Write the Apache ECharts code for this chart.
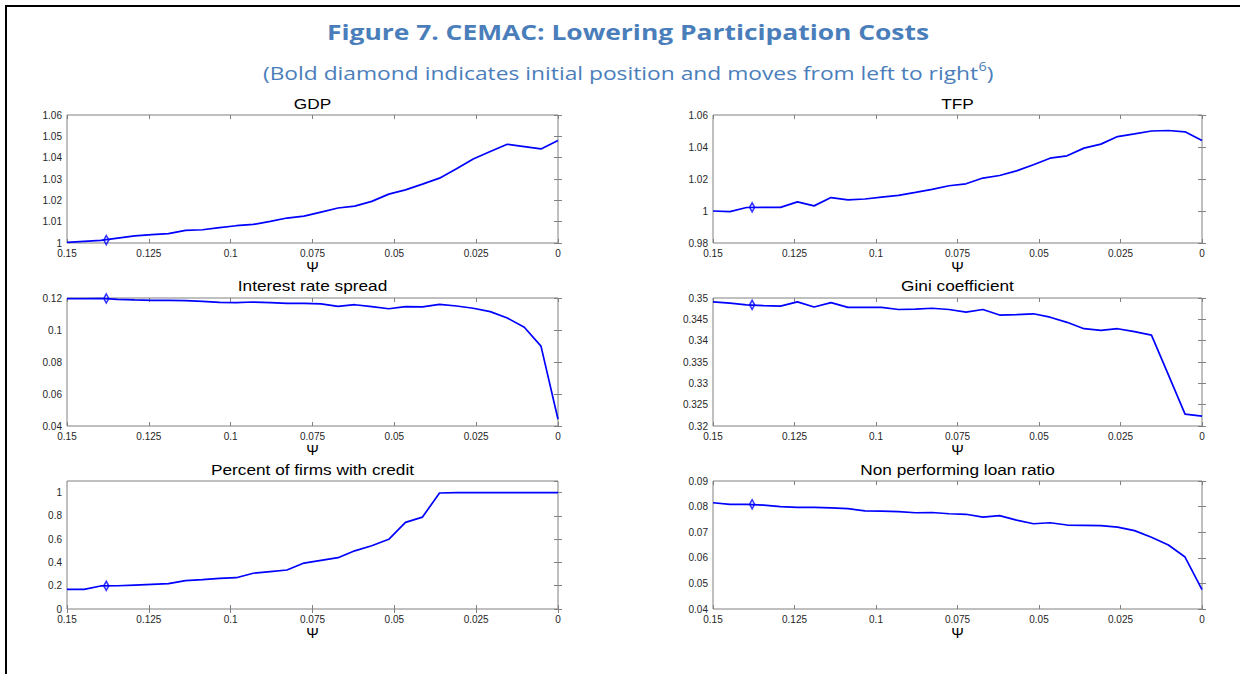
<!DOCTYPE html>
<html><head><meta charset="utf-8">
<script src="https://cdn.jsdelivr.net/npm/echarts@6/dist/echarts.min.js"></script>
<style>html,body{margin:0;padding:0;background:#fff}#c{width:1240px;height:674px}</style>
</head><body><div id="c"></div>
<script>
// x values (psi)
const psi = [0.15, 0.1448, 0.1397, 0.1345, 0.1293, 0.1241, 0.1190, 0.1138, 0.1086, 0.1034,
             0.0983, 0.0931, 0.0879, 0.0828, 0.0776, 0.0724, 0.0672, 0.0621, 0.0569, 0.0517,
             0.0466, 0.0414, 0.0362, 0.0310, 0.0259, 0.0207, 0.0155, 0.0103, 0.0052, 0];
const gdp = [1.0003, 1.0008, 1.0012, 1.0023, 1.0033, 1.0039, 1.0044, 1.0059, 1.0062, 1.0072,
             1.0081, 1.0087, 1.0101, 1.0117, 1.0126, 1.0145, 1.0164, 1.0173, 1.0195, 1.0229,
             1.0249, 1.0276, 1.0304, 1.0348, 1.0394, 1.0429, 1.0463, 1.0452, 1.0441, 1.0480];
const tfp = [1.0000, 0.9996, 1.0022, 1.0023, 1.0023, 1.0057, 1.0032, 1.0084, 1.0069, 1.0075,
             1.0087, 1.0098, 1.0116, 1.0135, 1.0158, 1.0170, 1.0206, 1.0222, 1.0251, 1.0289,
             1.0330, 1.0345, 1.0393, 1.0418, 1.0465, 1.0482, 1.0500, 1.0503, 1.0495, 1.0440];
const spread = [0.1196, 0.1196, 0.1198, 0.1192, 0.1188, 0.1185, 0.1185, 0.1183, 0.1179, 0.1173,
                0.1171, 0.1175, 0.1171, 0.1167, 0.1167, 0.1163, 0.1148, 0.1158, 0.1146, 0.1133,
                0.1146, 0.1144, 0.1160, 0.1150, 0.1136, 0.1115, 0.1075, 0.1017, 0.0899, 0.0442];
const gini = [0.3491, 0.3488, 0.3484, 0.3482, 0.3481, 0.3491, 0.3479, 0.3489, 0.3478, 0.3478,
              0.3478, 0.3473, 0.3474, 0.3476, 0.3473, 0.3467, 0.3473, 0.3460, 0.3461, 0.3463,
              0.3455, 0.3443, 0.3428, 0.3424, 0.3428, 0.3421, 0.3413, 0.3320, 0.3228, 0.3223];
const credit = [0.169, 0.169, 0.198, 0.200, 0.206, 0.212, 0.218, 0.244, 0.252, 0.264,
                0.269, 0.307, 0.321, 0.335, 0.395, 0.418, 0.441, 0.500, 0.544, 0.599,
                0.744, 0.790, 0.997, 1.000, 1.000, 1.000, 1.000, 1.000, 1.000, 1.000];
const npl = [0.0815, 0.0809, 0.0809, 0.0806, 0.0800, 0.0797, 0.0797, 0.0795, 0.0792, 0.0783,
             0.0782, 0.0780, 0.0776, 0.0777, 0.0772, 0.0770, 0.0759, 0.0765, 0.0747, 0.0733,
             0.0737, 0.0728, 0.0727, 0.0726, 0.0720, 0.0706, 0.0680, 0.0650, 0.0603, 0.0476];
// initial position (bold diamond)
const psi0 = 0.138;
const initial = {gdp: 1.0014, tfp: 1.0023, spread: 0.1197, gini: 0.3484, credit: 0.199, npl: 0.0809};

const panelTitles = ['GDP', 'TFP', 'Interest rate spread', 'Gini coefficient', 'Percent of firms with credit', 'Non performing loan ratio'];
const panelSeries = [gdp, tfp, spread, gini, credit, npl];
const panelInitial = [initial.gdp, initial.tfp, initial.spread, initial.gini, initial.credit, initial.npl];
const yRanges = [[1, 1.06, 0.01], [0.98, 1.06, 0.02], [0.04, 0.12, 0.02], [0.32, 0.35, 0.005], [0, 1.1, 0.2], [0.04, 0.09, 0.01]];
const xRange = [0, 0.15, 0.025];
const xName = 'Ψ';

// layout (pixels)
const layout = [
  {left: 67, top: 115, width: 491, height: 128, titleY: 103},
  {left: 713, top: 115, width: 489, height: 128, titleY: 103},
  {left: 67, top: 298, width: 491, height: 128, titleY: 285},
  {left: 713, top: 298, width: 489, height: 128, titleY: 285},
  {left: 67, top: 481, width: 491, height: 128, titleY: 469},
  {left: 713, top: 481, width: 489, height: 128, titleY: 469}
];

const AX = '#808080';
const LBL = '#262626';
const FONT = 'Liberation Sans, Arial, sans-serif';
const BLUE_T = '#4a7ebb';

const grids = [], xAxes = [], yAxes = [], series = [], graphics = [];
layout.forEach((L, i) => {
  grids.push({left: L.left, top: L.top, width: L.width, height: L.height, show: true,
    borderColor: AX, borderWidth: 1, backgroundColor: 'rgba(0,0,0,0)', containLabel: false});
  const tick = {inside: true, length: 4, lineStyle: {color: AX, width: 1}};
  xAxes.push({gridIndex: i, type: 'value', position: 'bottom', min: xRange[0], max: xRange[1], interval: xRange[2], inverse: true,
    axisLine: {show: false}, splitLine: {show: false}, axisTick: tick,
    axisLabel: {fontSize: 10, lineHeight: 10, fontFamily: FONT, color: LBL, margin: 5},
    name: xName, nameLocation: 'middle', nameGap: 15,
    nameTextStyle: {fontSize: 15, fontFamily: FONT, color: '#000'}});
  xAxes.push({gridIndex: i, type: 'value', position: 'top', min: xRange[0], max: xRange[1], interval: xRange[2], inverse: true,
    axisLine: {show: false}, splitLine: {show: false}, axisTick: tick, axisLabel: {show: false}});
  const r = yRanges[i];
  yAxes.push({gridIndex: i, type: 'value', position: 'left', min: r[0], max: r[1], interval: r[2],
    axisLine: {show: false}, splitLine: {show: false}, axisTick: tick,
    axisLabel: {fontSize: 10, lineHeight: 9, fontFamily: FONT, color: LBL, margin: 5, showMaxLabel: i !== 4}});
  yAxes.push({gridIndex: i, type: 'value', position: 'right', min: r[0], max: r[1], interval: r[2],
    axisLine: {show: false}, splitLine: {show: false}, axisTick: tick, axisLabel: {show: false}});
  series.push({type: 'line', xAxisIndex: 2 * i, yAxisIndex: 2 * i, showSymbol: false, symbol: 'none',
    lineStyle: {color: '#0000ff', width: 1.7}, data: psi.map((p, k) => [p, panelSeries[i][k]]), z: 3});
  series.push({type: 'scatter', xAxisIndex: 2 * i, yAxisIndex: 2 * i, symbol: 'diamond', symbolSize: [5, 9],
    itemStyle: {color: 'rgba(0,0,0,0)', borderColor: '#0000ff', borderWidth: 1.7},
    data: [[psi0, panelInitial[i]]], z: 4});
  graphics.push({type: 'text', x: L.left + L.width / 2, y: L.titleY, scaleX: 1.15,
    style: {text: panelTitles[i], fontSize: 15, fontFamily: FONT, fill: '#000', align: 'center', verticalAlign: 'middle'}});
});

graphics.push({type: 'line', shape: {x1: 6, y1: 6, x2: 1240, y2: 6}, style: {stroke: '#000', lineWidth: 2}});
graphics.push({type: 'line', shape: {x1: 6, y1: 5, x2: 6, y2: 674}, style: {stroke: '#000', lineWidth: 2}});
graphics.push({type: 'text', x: 628, y: 31, scaleX: 1.2,
  style: {text: 'Figure 7. CEMAC: Lowering Participation Costs', fontSize: 22, fontWeight: 'bold',
    fontFamily: 'Open Sans, sans-serif', fill: BLUE_T, align: 'center', verticalAlign: 'middle'}});
graphics.push({type: 'text', x: 628, y: 73, scaleX: 1.2,
  style: {text: '{a|(Bold diamond indicates initial position and moves from left to right}{s|6}{a|)}',
    align: 'center', verticalAlign: 'middle',
    rich: {a: {fontSize: 19, fontFamily: 'Open Sans, sans-serif', fill: BLUE_T, color: BLUE_T, lineHeight: 26},
           s: {fontSize: 12, fontFamily: 'Open Sans, sans-serif', fill: BLUE_T, color: BLUE_T, verticalAlign: 'top', lineHeight: 26}}}});

const chart = echarts.init(document.getElementById('c'), null, {renderer: 'svg'});
chart.setOption({animation: false, backgroundColor: '#fff', grid: grids, xAxis: xAxes, yAxis: yAxes, series: series, graphic: graphics});
</script></body></html>
